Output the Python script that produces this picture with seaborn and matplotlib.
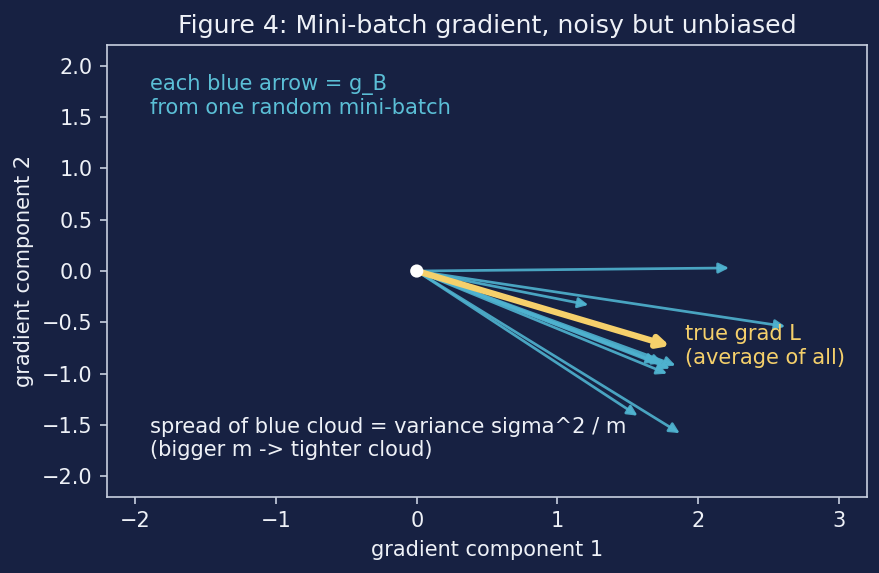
import matplotlib
matplotlib.use("Agg")
import matplotlib.pyplot as plt
import seaborn as sns
import pandas as pd

# Mini-batch gradient vectors
batch_gx = [2.22, 1.22, 2.62, 1.71, 1.84, 1.78, 1.80, 1.75, 1.57, 1.87]
batch_gy = [0.03, -0.33, -0.54, -0.89, -0.92, -1.00, -0.95, -0.90, -1.41, -1.58]
true_grad = [1.80, -0.73]
origin = [0.0, 0.0]

title = "Figure 4: Mini-batch gradient, noisy but unbiased"
xlabel = "gradient component 1"
ylabel = "gradient component 2"
note_top = "each blue arrow = g_B\nfrom one random mini-batch"
note_true = "true grad L\n(average of all)"
note_bottom = "spread of blue cloud = variance sigma^2 / m\n(bigger m -> tighter cloud)"

BG = "#172142"
FG = "#eef1f7"
SPINE = "#c8d0e0"
BLUE = "#4fb3d0"
YELLOW = "#f5d06b"

sns.set_theme(style="dark", rc={
    "figure.facecolor": BG, "axes.facecolor": BG,
    "axes.edgecolor": SPINE, "axes.labelcolor": FG,
    "xtick.color": FG, "ytick.color": FG, "text.color": FG,
    "xtick.bottom": True, "ytick.left": True,
})
plt.rcParams["font.family"] = ["DejaVu Sans"]

DPI = 150
fig = plt.figure(figsize=(880 / DPI, 573 / DPI), dpi=DPI)
ax = fig.add_axes([0.122, 0.133, 0.863, 0.788])

for gx, gy in zip(batch_gx, batch_gy):
    ax.annotate("", xy=(gx, gy), xytext=(origin[0], origin[1]),
                arrowprops=dict(arrowstyle="-|>", color=BLUE, lw=1.3, alpha=0.9,
                                mutation_scale=10, shrinkA=0, shrinkB=0))

ax.annotate("", xy=(true_grad[0], true_grad[1]), xytext=(origin[0], origin[1]),
            arrowprops=dict(arrowstyle="-|>", color=YELLOW, lw=3,
                            mutation_scale=11, shrinkA=0, shrinkB=0))

sns.scatterplot(data=pd.DataFrame({"x": [origin[0]], "y": [origin[1]]}), x="x", y="y",
                ax=ax, color="white", s=40, edgecolor="none", zorder=5)

ax.text(-1.9, 1.92, note_top, color="#5bbfd6", fontsize=10.1, va="top", ha="left",
        linespacing=1.2)
ax.text(1.91, -0.52, note_true, color=YELLOW, fontsize=10.1, va="top", ha="left",
        linespacing=1.2)
ax.text(-1.9, -1.42, note_bottom, color=FG, fontsize=10.1, va="top", ha="left",
        linespacing=1.2)

ax.set_xlim(-2.2, 3.2)
ax.set_ylim(-2.2, 2.2)
ax.set_xticks([-2, -1, 0, 1, 2, 3])
yt = [-2.0, -1.5, -1.0, -0.5, 0.0, 0.5, 1.0, 1.5, 2.0]
ax.set_yticks(yt)
ax.set_yticklabels([f"{v:.1f}".replace("-", "\u2212") for v in yt])
ax.tick_params(labelsize=10, length=3.5, width=0.8, color=SPINE)
ax.set_xlabel(xlabel, fontsize=10)
ax.set_ylabel(ylabel, fontsize=10)
ax.set_title(title, fontsize=12.1, color=FG, pad=6)
ax.grid(False)
for s in ax.spines.values():
    s.set_color(SPINE)
    s.set_linewidth(0.8)

fig.savefig("out.png", dpi=DPI, facecolor=BG)
